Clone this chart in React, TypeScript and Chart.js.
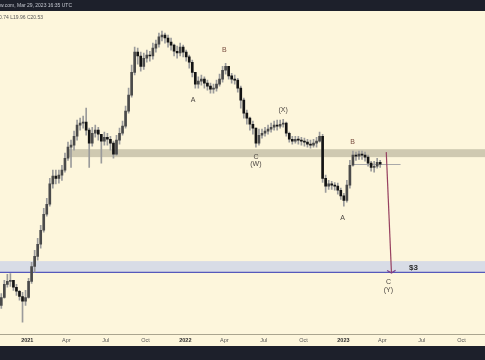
import { useEffect, useRef } from 'react';
import { Chart, registerables } from 'chart.js';

Chart.register(...registerables);

// ---- data (weekly candles, first week starting startDate) ----
const startDate = '2020-11-02';
const firstOpen = 1.34;
const closes = [
  1.56, 2.01, 2.13, 2.17, 1.90, 1.76, 1.59, 1.45, 1.56, 2.13,
  2.84, 3.45, 4.36, 5.72, 7.79, 9.45, 14.0, 16.3, 15.6, 16.6,
  18.3, 23.0, 28.5, 29.6, 35.2, 43.6, 45.3, 46.2, 39.6, 30.8,
  37.3, 39.6, 36.6, 32.0, 34.5, 33.2, 30.8, 24.9, 32.6, 37.3,
  42.8, 57.2, 77.9, 121, 179, 166, 136, 159, 169, 166,
  193, 209, 240, 249, 235, 217, 205, 182, 176, 197,
  179, 163, 147, 121, 96.3, 102, 106, 98.2, 92.7, 87.5,
  89.2, 96.3, 106, 126, 136, 113, 106, 104, 89.2, 70.7,
  55.0, 49.9, 44.4, 41.2, 30.8, 35.9, 37.3, 38.8, 40.4, 41.9,
  43.6, 42.8, 44.4, 45.3, 37.3, 33.2, 32.0, 33.2, 32.6, 32.0,
  31.4, 30.2, 29.6, 30.8, 32.0, 35.2, 15.6, 13.4, 14.0, 13.7,
  13.4, 12.4, 11.1, 10.2, 13.7, 20.1, 24.4, 23.9, 24.9, 24.4,
  23.5, 20.9, 19.3, 19.7, 21.3, 20.53,
];
const highs = [
  1.68, 2.17, 2.44, 2.48, 2.17, 2.01, 1.79, 1.72, 1.79, 2.26,
  3.08, 3.88, 4.90, 6.30, 8.75, 10.6, 15.6, 18.3, 18.3, 18.3,
  20.1, 25.4, 31.4, 32.6, 38.8, 48.0, 49.9, 51.9, 60.6, 41.2,
  41.9, 43.6, 41.9, 36.6, 38.1, 37.3, 35.2, 32.0, 35.9, 41.2,
  47.1, 63.0, 89.2, 139, 197, 193, 179, 176, 186, 182,
  213, 226, 259, 269, 259, 249, 235, 209, 201, 213,
  205, 186, 169, 153, 121, 111, 115, 111, 104, 98.2,
  96.3, 104, 117, 136, 144, 136, 119, 115, 108, 92.7,
  73.5, 58.3, 50.9, 47.1, 41.2, 40.4, 40.4, 41.9, 43.6, 45.3,
  47.1, 48.0, 48.0, 48.9, 46.2, 38.1, 35.2, 35.2, 35.2, 34.5,
  33.9, 33.2, 32.6, 33.2, 34.5, 38.1, 36.6, 16.6, 15.0, 14.7,
  14.4, 14.2, 12.9, 11.7, 15.0, 22.1, 26.4, 25.9, 26.4, 26.4,
  25.9, 24.4, 21.7, 21.7, 23.0, 22.1,
];
const lows = [
  1.26, 1.54, 1.90, 1.93, 1.79, 1.62, 1.48, 0.97, 1.34, 1.54,
  2.05, 2.54, 3.20, 4.04, 5.50, 7.49, 9.09, 12.9, 14.0, 14.2,
  15.0, 17.6, 22.1, 19.3, 26.9, 32.6, 39.6, 41.2, 35.9, 19.3,
  29.0, 34.5, 32.6, 20.9, 29.6, 29.6, 26.9, 23.0, 24.4, 30.2,
  35.9, 41.2, 55.0, 74.9, 115, 142, 124, 128, 147, 150,
  156, 179, 197, 222, 213, 197, 186, 166, 159, 166,
  163, 150, 131, 111, 89.2, 89.2, 94.5, 89.2, 85.8, 81.0,
  81.0, 84.2, 92.7, 100, 117, 106, 98.2, 96.3, 82.6, 60.6,
  49.9, 44.4, 39.6, 36.6, 28.5, 29.6, 33.9, 35.2, 36.6, 38.1,
  39.6, 39.6, 41.2, 41.9, 35.2, 31.4, 30.2, 30.8, 30.2, 29.6,
  29.0, 28.5, 27.9, 28.5, 28.5, 31.4, 14.4, 11.9, 12.6, 12.6,
  12.4, 11.5, 10.4, 9.09, 9.82, 12.9, 19.7, 22.1, 22.5, 22.5,
  21.7, 19.7, 17.9, 17.6, 19.0, 19.3,
];

const axisDates = [
  '2021-01-01', '2021-04-01', '2021-07-01', '2021-10-01',
  '2022-01-01', '2022-04-01', '2022-07-01', '2022-10-01',
  '2023-01-01', '2023-04-01', '2023-07-01', '2023-10-01',
];
const axisLabels = ['2021', 'Apr', 'Jul', 'Oct', '2022', 'Apr', 'Jul', 'Oct', '2023', 'Apr', 'Jul', 'Oct'];

const viewRange = ['2020-10-30', '2023-11-24'];
const priceRange = [0.764, 396];

const resistanceZone = [23.5, 27.4];
const resistanceFrom = '2021-04-06';
const targetZone = [2.53, 3.15];
const targetLevel = 2.53;
const targetText = '$3';
const targetTextAt = ['2023-06-12', 2.79] as const;
const lastClose = 20.53;
const lastLineDates = ['2023-01-22', '2023-05-13'];
const arrowDates = ['2023-04-10', '2023-04-22'];
const arrowPrices = [25.9, 2.5];

const waveText = ['A', 'B', 'C', '(W)', '(X)', 'A', 'B', 'C', '(Y)'];
const waveDates = ['2022-01-19', '2022-04-01', '2022-06-13', '2022-06-13', '2022-08-15', '2022-12-30', '2023-01-22', '2023-04-15', '2023-04-15'];
const wavePrices = [70.7, 186, 23.5, 20.5, 58.3, 7.2, 31.4, 2.09, 1.79];

const headerTop = 'TradingView.com, Mar 29, 2023 16:35 UTC';
const headerOhlc = 'H20.74 L19.96 C20.53';

const FONT = '"Liberation Sans", Arial, sans-serif';
const CREAM = '#fdf6dc';
const DARK = '#1d202b';

export default function App() {
  const ref = useRef<HTMLCanvasElement>(null);

  useEffect(() => {
    document.body.style.margin = '0';
    const canvas = ref.current;
    if (!canvas) return;
    const t0 = Date.parse(startDate);
    const dayOf = (s: string) => (Date.parse(s) - t0) / 86400000;
    const days = closes.map((_, i) => i * 7);
    const opens = closes.map((_, i) => (i === 0 ? firstOpen : closes[i - 1]));
    const axisDays = axisDates.map(dayOf);

    const decor = {
      id: 'decor',
      beforeDraw(chart: any) {
        const { ctx, width, height } = chart;
        ctx.save();
        ctx.fillStyle = CREAM;
        ctx.fillRect(0, 0, width, height);
        ctx.fillStyle = DARK;
        ctx.fillRect(0, 0, width, 11);
        ctx.fillRect(0, 346, width, height - 346);
        ctx.font = `5px ${FONT}`;
        ctx.textBaseline = 'middle';
        ctx.textAlign = 'right';
        ctx.fillStyle = '#c5c8d0';
        ctx.fillText(headerTop, 72, 6);
        ctx.fillStyle = '#555555';
        ctx.fillText(headerOhlc, 43, 17.5);
        ctx.restore();
      },
      beforeDatasetsDraw(chart: any) {
        const { ctx, chartArea } = chart;
        const xs = chart.scales.x;
        const ys = chart.scales.y;
        ctx.save();
        const gx = xs.getPixelForValue(dayOf(resistanceFrom));
        const g1 = ys.getPixelForValue(resistanceZone[1]);
        const g0 = ys.getPixelForValue(resistanceZone[0]);
        ctx.fillStyle = '#cfc9b1';
        ctx.fillRect(gx, g1, chartArea.right - gx, g0 - g1);
        const b1 = ys.getPixelForValue(targetZone[1]);
        const b0 = ys.getPixelForValue(targetZone[0]);
        ctx.fillStyle = '#d8dce6';
        ctx.fillRect(chartArea.left, b1, chartArea.right - chartArea.left, b0 - b1);
        const ly = ys.getPixelForValue(targetLevel);
        ctx.strokeStyle = '#5659bb';
        ctx.lineWidth = 1.3;
        ctx.beginPath();
        ctx.moveTo(chartArea.left, ly);
        ctx.lineTo(chartArea.right, ly);
        ctx.stroke();
        const py = Math.round(ys.getPixelForValue(lastClose)) + 0.5;
        ctx.strokeStyle = '#a9a9a9';
        ctx.lineWidth = 1;
        ctx.beginPath();
        ctx.moveTo(xs.getPixelForValue(dayOf(lastLineDates[0])), py);
        ctx.lineTo(xs.getPixelForValue(dayOf(lastLineDates[1])), py);
        ctx.stroke();
        ctx.restore();
      },
      afterDatasetsDraw(chart: any) {
        const { ctx } = chart;
        const xs = chart.scales.x;
        const ys = chart.scales.y;
        ctx.save();
        const ax = xs.getPixelForValue(dayOf(arrowDates[0]));
        const ay = ys.getPixelForValue(arrowPrices[0]);
        const bx = xs.getPixelForValue(dayOf(arrowDates[1]));
        const by = ys.getPixelForValue(arrowPrices[1]);
        ctx.strokeStyle = '#974060';
        ctx.lineWidth = 1.2;
        ctx.beginPath();
        ctx.moveTo(ax, ay);
        ctx.lineTo(bx, by);
        ctx.stroke();
        const ang = Math.atan2(by - ay, bx - ax);
        const L = 5;
        const spread = 1.0;
        ctx.strokeStyle = '#7b3f8c';
        ctx.beginPath();
        ctx.moveTo(bx - L * Math.cos(ang - spread), by - L * Math.sin(ang - spread));
        ctx.lineTo(bx, by);
        ctx.lineTo(bx - L * Math.cos(ang + spread), by - L * Math.sin(ang + spread));
        ctx.stroke();
        ctx.font = `7px ${FONT}`;
        ctx.textAlign = 'center';
        ctx.textBaseline = 'middle';
        waveText.forEach((t, i) => {
          ctx.fillStyle = t === 'B' ? '#7a4e40' : '#4c4642';
          ctx.fillText(t, xs.getPixelForValue(dayOf(waveDates[i])), ys.getPixelForValue(wavePrices[i]));
        });
        ctx.font = `bold 8px ${FONT}`;
        ctx.fillStyle = '#2a2a2a';
        ctx.fillText(targetText, xs.getPixelForValue(dayOf(targetTextAt[0])), ys.getPixelForValue(targetTextAt[1]));
        ctx.restore();
      },
    };

    const chart = new Chart(canvas, {
      type: 'bar',
      data: {
        datasets: [
          {
            label: 'body',
            data: days.map((d, i) => ({ x: d, y: [opens[i], closes[i]] })) as any,
            backgroundColor: closes.map((c, i) => (c >= opens[i] ? '#4a4a4a' : '#141414')),
            barThickness: 2,
            grouped: false,
            minBarLength: 1,
            borderWidth: 0,
            order: 0,
          } as any,
          {
            label: 'wick',
            data: days.map((d, i) => ({ x: d, y: [lows[i], highs[i]] })) as any,
            backgroundColor: '#9b9b9b',
            barThickness: 1,
            grouped: false,
            borderWidth: 0,
            order: 1,
          } as any,
        ],
      },
      options: {
        animation: false,
        responsive: false,
        events: [],
        layout: { padding: { top: 11, bottom: 13, left: 0, right: 0 } },
        plugins: { legend: { display: false }, tooltip: { enabled: false } },
        scales: {
          x: {
            type: 'linear',
            min: dayOf(viewRange[0]),
            max: dayOf(viewRange[1]),
            offset: false,
            grid: { display: false, drawTicks: false },
            border: { display: true, color: '#aaa58f', width: 1 },
            afterBuildTicks: (scale: any) => {
              scale.ticks = axisDays.map((v) => ({ value: v }));
            },
            ticks: {
              autoSkip: false,
              maxRotation: 0,
              padding: 3,
              callback: (_v: any, i: number) => axisLabels[i],
              font: (c: any) => ({
                family: FONT,
                size: 5.5,
                weight: /^\d{4}$/.test(axisLabels[c.index] || '') ? 'bold' : 'normal',
              }),
              color: (c: any) => (/^\d{4}$/.test(axisLabels[c.index] || '') ? '#2e2e2e' : '#555555'),
            },
          } as any,
          y: {
            type: 'logarithmic',
            min: priceRange[0],
            max: priceRange[1],
            bounds: 'data',
            stacked: false,
            display: false,
          } as any,
        },
      },
      plugins: [decor],
    });
    return () => chart.destroy();
  }, []);

  return <canvas ref={ref} width={485} height={360} style={{ display: 'block' }} />;
}
